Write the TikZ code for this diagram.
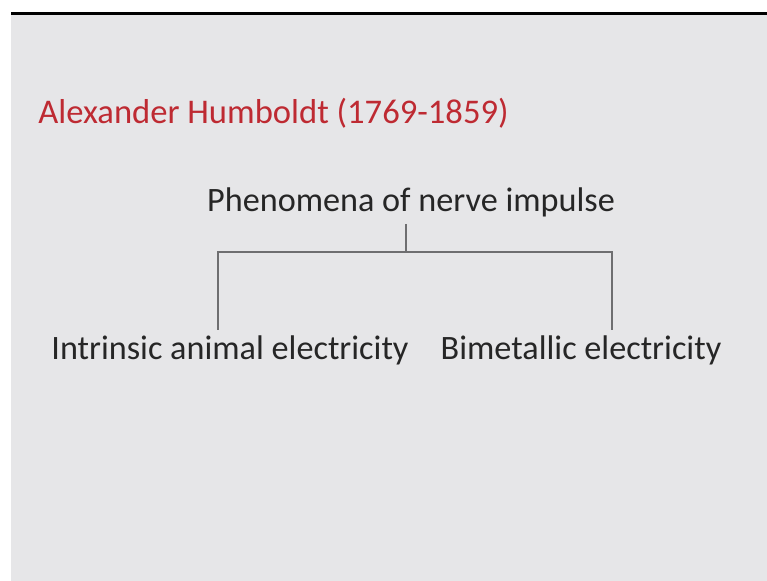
\documentclass[tikz,border=0pt]{standalone}
\usepackage{fontspec}
\setmainfont{Carlito}
\usepackage{xcolor}
\usepackage{tikz}
\usetikzlibrary{positioning,calc}
\definecolor{slide}{HTML}{E6E6E8}
\definecolor{ink}{HTML}{262626}
\definecolor{head}{HTML}{BE2A32}
\definecolor{wire}{HTML}{6E6E70}
\tikzset{
  txt/.style={anchor=base, inner sep=3pt, text=ink, font=\fontsize{17.1}{20}\selectfont},
  ttl/.style={txt, anchor=base west, text=head, font=\fontsize{17.3}{20}\selectfont},
  br/.style={draw=wire, line width=0.7pt},
}

\begin{document}
\begin{tikzpicture}[x=0.5pt, y=-0.5pt]
\useasboundingbox (0,0) rectangle (767,581);
\fill[white] (0,0) rectangle (767,581);
\fill[slide] (11,14) rectangle (767,581);
\draw[line width=1.2pt, black] (11,13.5) -- (767,13.5);

\node[ttl] (name) at (32,124) {Alexander Humboldt (1769-1859)};
\node[txt] (phen) at (411,212) {Phenomena of nerve impulse};
\node[txt] (intr) at (230,360) {Intrinsic animal electricity};
\node[txt] (bim) at (581,360) {Bimetallic electricity};

\coordinate (stem) at (406,252);
\coordinate (lj) at (218,252);
\coordinate (rj) at (612,252);

\draw[br] (stem |- phen.south) -- (stem);
\draw[br] (lj |- intr.north) -- (lj) -- (rj) -- (rj |- bim.north);
\end{tikzpicture}
\end{document}
